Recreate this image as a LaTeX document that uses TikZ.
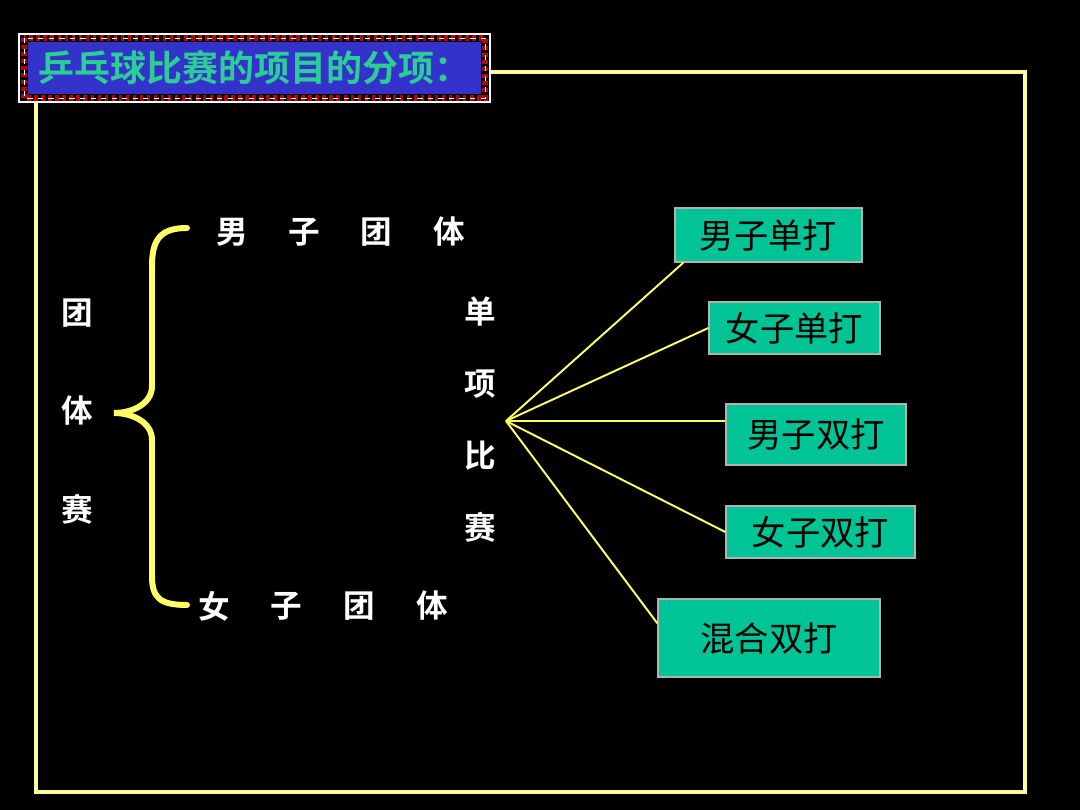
\documentclass[tikz,border=0pt]{standalone}
\usepackage{fontspec}
\setmainfont{Noto Sans CJK SC}
\newfontfamily\cjkbf{Noto Sans CJK SC Bold}
\usetikzlibrary{calc}

\definecolor{framey}{RGB}{255,255,153}
\definecolor{bracey}{RGB}{255,255,102}
\definecolor{boxteal}{RGB}{0,196,150}
\definecolor{titleblue}{RGB}{51,51,204}
\definecolor{titlegreen}{RGB}{45,205,150}

\tikzset{
  white label/.style={text=white,font=\cjkbf\fontsize{18}{18}\selectfont,inner sep=0pt},
  item/.style={fill=boxteal,draw=gray!60,line width=0.8pt,inner sep=0pt,
    font=\fontsize{19.5}{19.5}\selectfont,text=black},
  spoke/.style={draw=bracey,line width=1.1pt}
}

\begin{document}
\begin{tikzpicture}[x=0.02cm,y=-0.02cm]
				\useasboundingbox[fill=black] (0,0) rectangle (1080,810);
				% the outer frame
				\draw[framey,line width=1.8pt] (36,72) rectangle (1025,792);
				% the title box
				\fill[white] (18,33) rectangle (491,103);
				\fill[black] (20,35) rectangle (489,101);
				\draw[red!75!black,line width=3pt,dash pattern=on 2pt off 2pt] (24,38) rectangle (485,98);
				\draw[white,line width=0.5pt,dashed] (24,38) rectangle (485,98);
				\fill[titleblue] (28,42) rectangle (481,94);
				\node[text=titlegreen,font=\cjkbf\fontsize{20.5}{20.5}\selectfont,anchor=west,inner sep=0pt] (title) at (38,68)
					{乒乓球比赛的项目的分项：};
				% team events
				\foreach \c [count=\i] in {团,体,赛}
					\node[white label] (t\i) at (77,{313+98*(\i-1)}) {\c};
				\draw[bracey,line width=3.4pt,line cap=round]
					(187,228) .. controls (160,228) and (152,240) .. (152,266) -- (152,386)
					.. controls (152,404) and (132,413) .. (114,413)
					.. controls (132,413) and (152,422) .. (152,440) -- (152,576)
					.. controls (152,598) and (160,605) .. (187,605);
				\foreach \c [count=\i] in {男,子,团,体}
					\node[white label] (m\i) at ({232+72.3*(\i-1)},232) {\c};
				\foreach \c [count=\i] in {女,子,团,体}
					\node[white label] (w\i) at ({214+72.7*(\i-1)},606) {\c};
				% single events
				\foreach \c [count=\i] in {单,项,比,赛}
					\node[white label] (s\i) at (480,{312+71.7*(\i-1)}) {\c};
				\coordinate (hub) at (506,421);
				\node[item,minimum width=3.74cm,minimum height=1.08cm] (b1) at (768.5,235) {男子单打};
				\node[item,minimum width=3.42cm,minimum height=1.04cm] (b2) at (794.5,328) {女子单打};
				\node[item,minimum width=3.6cm,minimum height=1.22cm] (b3) at (816,434.5) {男子双打};
				\node[item,minimum width=3.78cm,minimum height=1.04cm] (b4) at (820.5,532) {女子双打};
				\node[item,minimum width=4.44cm,minimum height=1.56cm] (b5) at (769,638) {混合双打};
				\draw[spoke] (hub) -- ($(b1.south west)+(9,0)$);
				\draw[spoke] (hub) -- (b2.west);
				\draw[spoke] (hub) -- (hub -| b3.west);
				\draw[spoke] (hub) -- (b4.west);
				\draw[spoke] (hub) -- ($(b5.north west)+(0,25)$);
			\end{tikzpicture}
\end{document}
